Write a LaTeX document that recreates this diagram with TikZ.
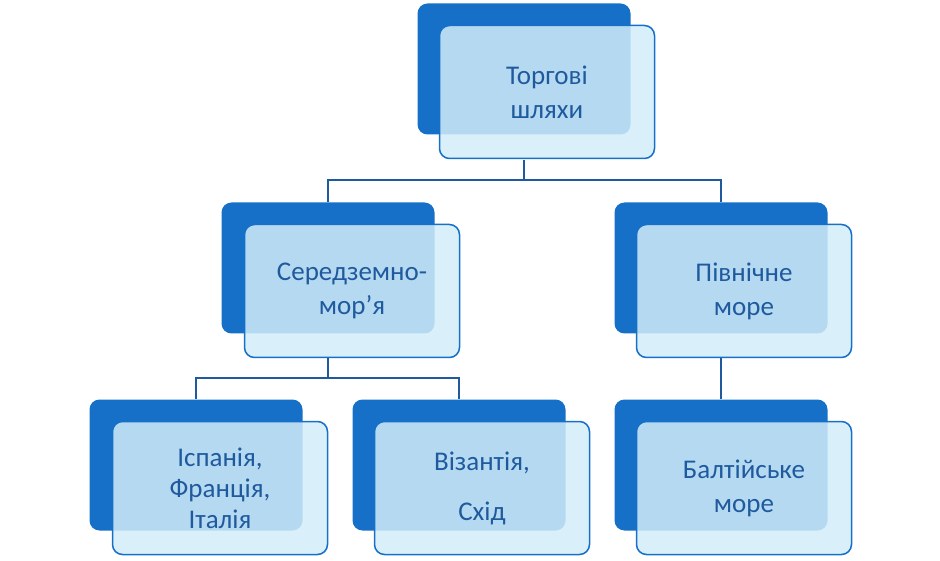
\documentclass[tikz,border=0pt]{standalone}
\usepackage{fontspec}
\setmainfont{Carlito}
\usetikzlibrary{positioning}
\definecolor{darkblue}{HTML}{1670C8}
\definecolor{lightblue}{HTML}{D2ECF8}
\definecolor{textblue}{HTML}{1F5A9E}
\tikzset{
  backbox/.style={rectangle, rounded corners=10pt, fill=darkblue, minimum width=213pt, minimum height=131pt},
  frontbox/.style={rectangle, rounded corners=10pt, draw=darkblue, line width=1.5pt, fill=lightblue, fill opacity=0.85, text opacity=1, text=textblue, minimum width=215pt, minimum height=133pt, align=center, font=\fontsize{27}{34}\selectfont},
  link/.style={draw=textblue, line width=1.5pt},
}
\begin{document}
\begin{tikzpicture}[x=1pt, y=-1pt]
  \useasboundingbox (0,0) rectangle (940,561);
  % back boxes
  \node[backbox] (tb) at (524,69) {};
  \node[backbox] (mb) at (328,268) {};
  \node[backbox] (nb) at (721,268) {};
  \node[backbox] (sb) at (196,465) {};
  \node[backbox] (vb) at (459,465) {};
  \node[backbox] (bb) at (721,465) {};
  % connectors
  \coordinate (j1) at (524,180);
  \coordinate (j2) at (328,378);
  \draw[link] (524,160) -- (j1) -| (mb.north);
  \draw[link] (j1) -| (nb.north);
  \draw[link] (328,358) -- (j2) -| (sb.north);
  \draw[link] (j2) -| (vb.north);
  \draw[link] (721,358) -- (bb.north);
  % front boxes
  \node[frontbox] (t) at (547,92) {Торгові\\шляхи};
  \node[frontbox] (m) at (352,291) {Середземно-\\мор’я};
  \node[frontbox] (n) at (744,291) {Північне\\море};
  \node[frontbox, font=\fontsize{27}{31}\selectfont] (s) at (220,488) {Іспанія,\\Франція,\\Італія};
  \node[frontbox, font=\fontsize{27}{50}\selectfont] (v) at (482,488) {Візантія,\\Схід};
  \node[frontbox] (b) at (744,488) {Балтійське\\море};
\end{tikzpicture}
\end{document}
